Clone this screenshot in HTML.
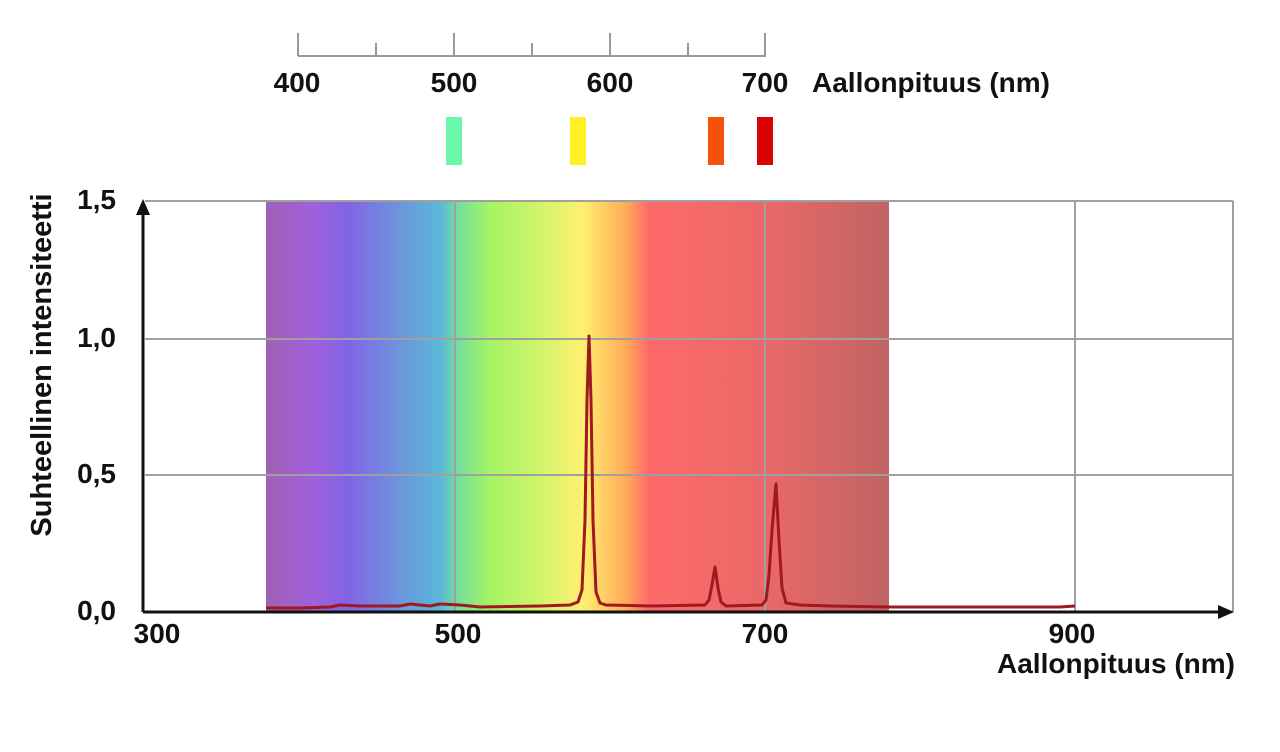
<!DOCTYPE html>
<html><head><style>
body{margin:0;background:#fff;width:1280px;height:747px;overflow:hidden}
text{font-family:"Liberation Sans",Arial,sans-serif;font-weight:bold;fill:#111}
</style></head><body>
<svg width="1280" height="747" xmlns="http://www.w3.org/2000/svg">
<defs>
<linearGradient id="g" x1="266" x2="889" gradientUnits="userSpaceOnUse">
<stop offset="0" stop-color="#a060b4"/>
<stop offset="0.076" stop-color="#a060dc"/>
<stop offset="0.13" stop-color="#8264e6"/>
<stop offset="0.22" stop-color="#6c98dc"/>
<stop offset="0.28" stop-color="#5ab8d8"/>
<stop offset="0.31" stop-color="#78e09a"/>
<stop offset="0.359" stop-color="#a4f464"/>
<stop offset="0.45" stop-color="#d8f46c"/>
<stop offset="0.508" stop-color="#fff070"/>
<stop offset="0.58" stop-color="#ffa858"/>
<stop offset="0.614" stop-color="#ff6a6a"/>
<stop offset="0.80" stop-color="#ea6868"/>
<stop offset="1" stop-color="#c06464"/>
</linearGradient>
</defs>
<g stroke="#999" stroke-width="2">
<line x1="298" y1="56" x2="766" y2="56"/>
<line x1="298" y1="33" x2="298" y2="56"/><line x1="376" y1="43" x2="376" y2="56"/>
<line x1="454" y1="33" x2="454" y2="56"/><line x1="532" y1="43" x2="532" y2="56"/>
<line x1="610" y1="33" x2="610" y2="56"/><line x1="688" y1="43" x2="688" y2="56"/>
<line x1="765" y1="33" x2="765" y2="56"/>
</g>
<g font-size="28" text-anchor="middle">
<text x="297" y="92">400</text><text x="454" y="92">500</text><text x="610" y="92">600</text><text x="765" y="92">700</text>
</g>
<text x="812" y="92" font-size="28">Aallonpituus (nm)</text>
<rect x="446" y="117" width="16" height="48" fill="#6cf8aa"/>
<rect x="570" y="117" width="16" height="48" fill="#fff028"/>
<rect x="708" y="117" width="16" height="48" fill="#f45208"/>
<rect x="757" y="117" width="16" height="48" fill="#d80404"/>
<rect x="266" y="201" width="623" height="411" fill="url(#g)"/>
<g stroke="#a0a0a0" stroke-width="2" fill="none">
<line x1="145" y1="201" x2="1233" y2="201"/>
<line x1="145" y1="339" x2="1233" y2="339"/>
<line x1="145" y1="475" x2="1233" y2="475"/>
<line x1="455" y1="201" x2="455" y2="612"/>
<line x1="765" y1="201" x2="765" y2="612"/>
<line x1="1075" y1="201" x2="1075" y2="612"/>
<line x1="1233" y1="201" x2="1233" y2="612"/>
</g>
<polyline fill="none" stroke="#a01820" stroke-width="3" stroke-linejoin="round" points="266,608 300,608 330,607 340,605 360,606 400,606 410,604 430,606 440,604 460,605 480,607 540,606 570,605 578,602 582,590 585,520 587,400 589,336 591,400 593,520 596,592 600,603 606,605 650,606 705,605 709,600 712,585 715,567 718,588 721,602 726,606 762,605 766,600 769,575 772,530 776,484 779,540 782,588 786,603 800,605 830,606 890,607 950,607 1000,607 1060,607 1075,606"/>
<g stroke="#111" stroke-width="3">
<line x1="143" y1="612" x2="1222" y2="612"/>
<line x1="143" y1="612" x2="143" y2="210"/>
</g>
<polygon points="1234,612 1218,605 1218,619" fill="#111"/>
<polygon points="143,199 136,215 150,215" fill="#111"/>
<g font-size="28" text-anchor="end">
<text x="116" y="209">1,5</text><text x="116" y="347">1,0</text><text x="116" y="483">0,5</text><text x="116" y="620">0,0</text>
</g>
<g font-size="28" text-anchor="middle">
<text x="157" y="643">300</text><text x="458" y="643">500</text><text x="765" y="643">700</text><text x="1072" y="643">900</text>
</g>
<text x="1235" y="673" font-size="28" text-anchor="end">Aallonpituus (nm)</text>
<text transform="translate(51,365) rotate(-90)" font-size="29" text-anchor="middle">Suhteellinen intensiteetti</text>
</svg>
</body></html>
